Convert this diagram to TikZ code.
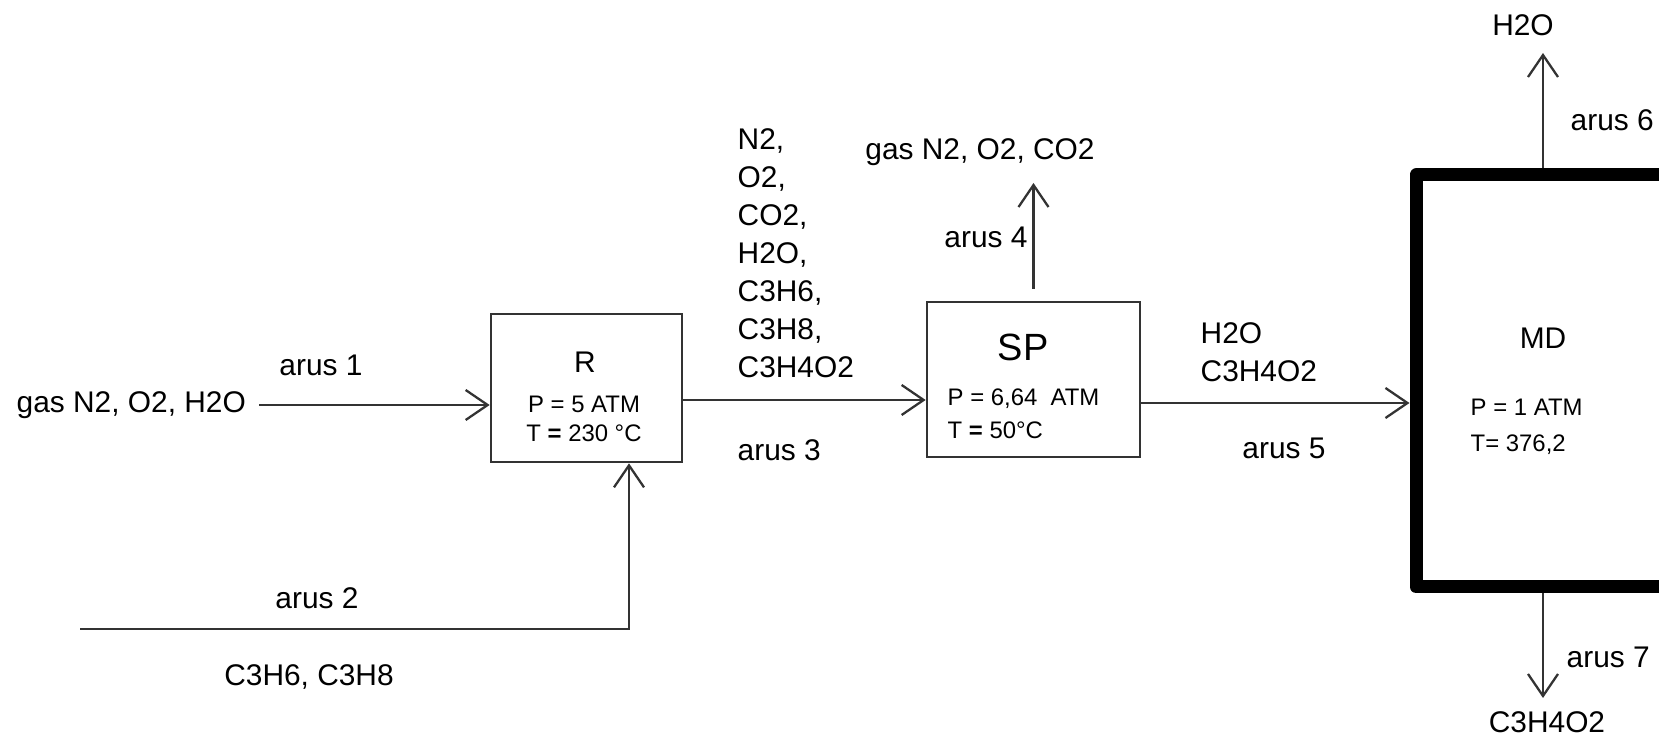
\documentclass[tikz,border=0pt]{standalone}
\usepackage{fontspec}
\setmainfont{Liberation Sans}
\usepackage{tikz}
\usetikzlibrary{arrows.meta, positioning, calc}
\colorlet{linegray}{black!80}
\tikzset{
  flow/.style={draw=linegray, line width=0.65pt, -{Straight Barb[length=2.2mm, width=3mm]}},
  unitbox/.style={draw=linegray, line width=0.75pt, inner sep=0pt},
  mdbox/.style={draw=black, line width=3.7pt, line join=round, inner sep=0pt},
  lbl/.style={font=\fontsize{8.5}{10.8}\selectfont, inner sep=0pt},
  boxtxt/.style={font=\fontsize{6.8}{8.2}\selectfont, inner sep=0pt},
  bigtxt/.style={font=\fontsize{10.8}{13}\selectfont, inner sep=0pt}
}

\begin{document}
\begin{tikzpicture}
    \useasboundingbox (0,0) rectangle (16.59,7.36);
    \clip (0,0) rectangle (16.59,7.36);

    % Reaktor R
    \node[unitbox, minimum width=1.91cm, minimum height=1.48cm] (r) at (5.865,3.48) {};
    \node[lbl, anchor=base] (rname) at (5.85,3.63) {R};
    \node[boxtxt, anchor=base] (rp) at (5.84,3.23) {P = 5 ATM};
    \node[boxtxt, anchor=base] (rt) at (5.84,2.94) {T \textbf{=} 230 °C};

    % arus 1 dan arus 2
    \coordinate (in1) at (2.59,3.31);
    \coordinate (in2) at (0.80,1.07);
    \node[lbl, anchor=base west] (feed1) at (0.16,3.23) {gas N2, O2, H2O};
    \node[lbl, anchor=base] (arus1) at (3.21,3.60) {arus 1};
    \draw[flow] (in1) -- (in1 -| r.west);
    \node[lbl, anchor=base] (arus2) at (3.17,1.27) {arus 2};
    \node[lbl, anchor=base] (feed2) at (3.09,0.50) {C3H6, C3H8};
    \draw[flow] (in2) -| ([xshift=4.25mm]r.south);

    % Separator SP
    \node[unitbox, minimum width=2.13cm, minimum height=1.55cm] (sp) at (10.335,3.565) {};
    \node[bigtxt, anchor=base] (spname) at (10.23,3.75) {SP};
    \node[boxtxt, anchor=base west] (spp) at (9.47,3.30) {P = 6,64\ \ ATM};
    \node[boxtxt, anchor=base west] (spt) at (9.47,2.97) {T \textbf{=} 50°C};

    % arus 3
    \node[lbl, anchor=north west, align=left] (s3txt) at (7.37,6.08)
      {N2,\\O2,\\CO2,\\H2O,\\C3H6,\\C3H8,\\C3H4O2};
    \node[lbl, anchor=base west] (arus3) at (7.37,2.75) {arus 3};
    \draw[flow] ([yshift=-1.2mm]r.east) -- ([yshift=-1.2mm]r.east -| sp.west);

    % arus 4
    \coordinate (out4) at (10.335,5.53);
    \node[lbl, anchor=base] (gas4) at (9.80,5.76) {gas N2, O2, CO2};
    \node[lbl, anchor=base] (arus4) at (9.86,4.88) {arus 4};
    \draw[flow] ([yshift=1.2mm]sp.north) -- (out4);

    % Menara distilasi MD
    \node[mdbox, minimum width=3.0cm, minimum height=4.12cm] (md) at (15.66,3.55) {};
    \node[lbl, anchor=base] (mdname) at (15.43,3.87) {MD};
    \node[boxtxt, anchor=base west] (mdp) at (14.70,3.20) {P = 1 ATM};
    \node[boxtxt, anchor=base west] (mdt) at (14.70,2.84) {T= 376,2};

    % arus 5
    \node[lbl, anchor=north west, align=left] (s5txt) at (12.00,4.14) {H2O\\C3H4O2};
    \node[lbl, anchor=base] (arus5) at (12.84,2.77) {arus 5};
    \draw[flow] ([yshift=-2.35mm]sp.east) -- ([yshift=-2.35mm]sp.east -| md.west);

    % arus 6 dan arus 7
    \coordinate (out6) at (15.43,6.83);
    \coordinate (out7) at (15.43,0.38);
    \draw[flow] (out6 |- md.north) -- (out6);
    \node[lbl, anchor=base] (top6) at (15.23,7.00) {H2O};
    \node[lbl, anchor=base west] (arus6) at (15.70,6.05) {arus 6};
    \draw[flow] (out7 |- md.south) -- (out7);
    \node[lbl, anchor=base west] (arus7) at (15.66,0.68) {arus 7};
    \node[lbl, anchor=base] (bot7) at (15.47,0.03) {C3H4O2};
\end{tikzpicture}
\end{document}
